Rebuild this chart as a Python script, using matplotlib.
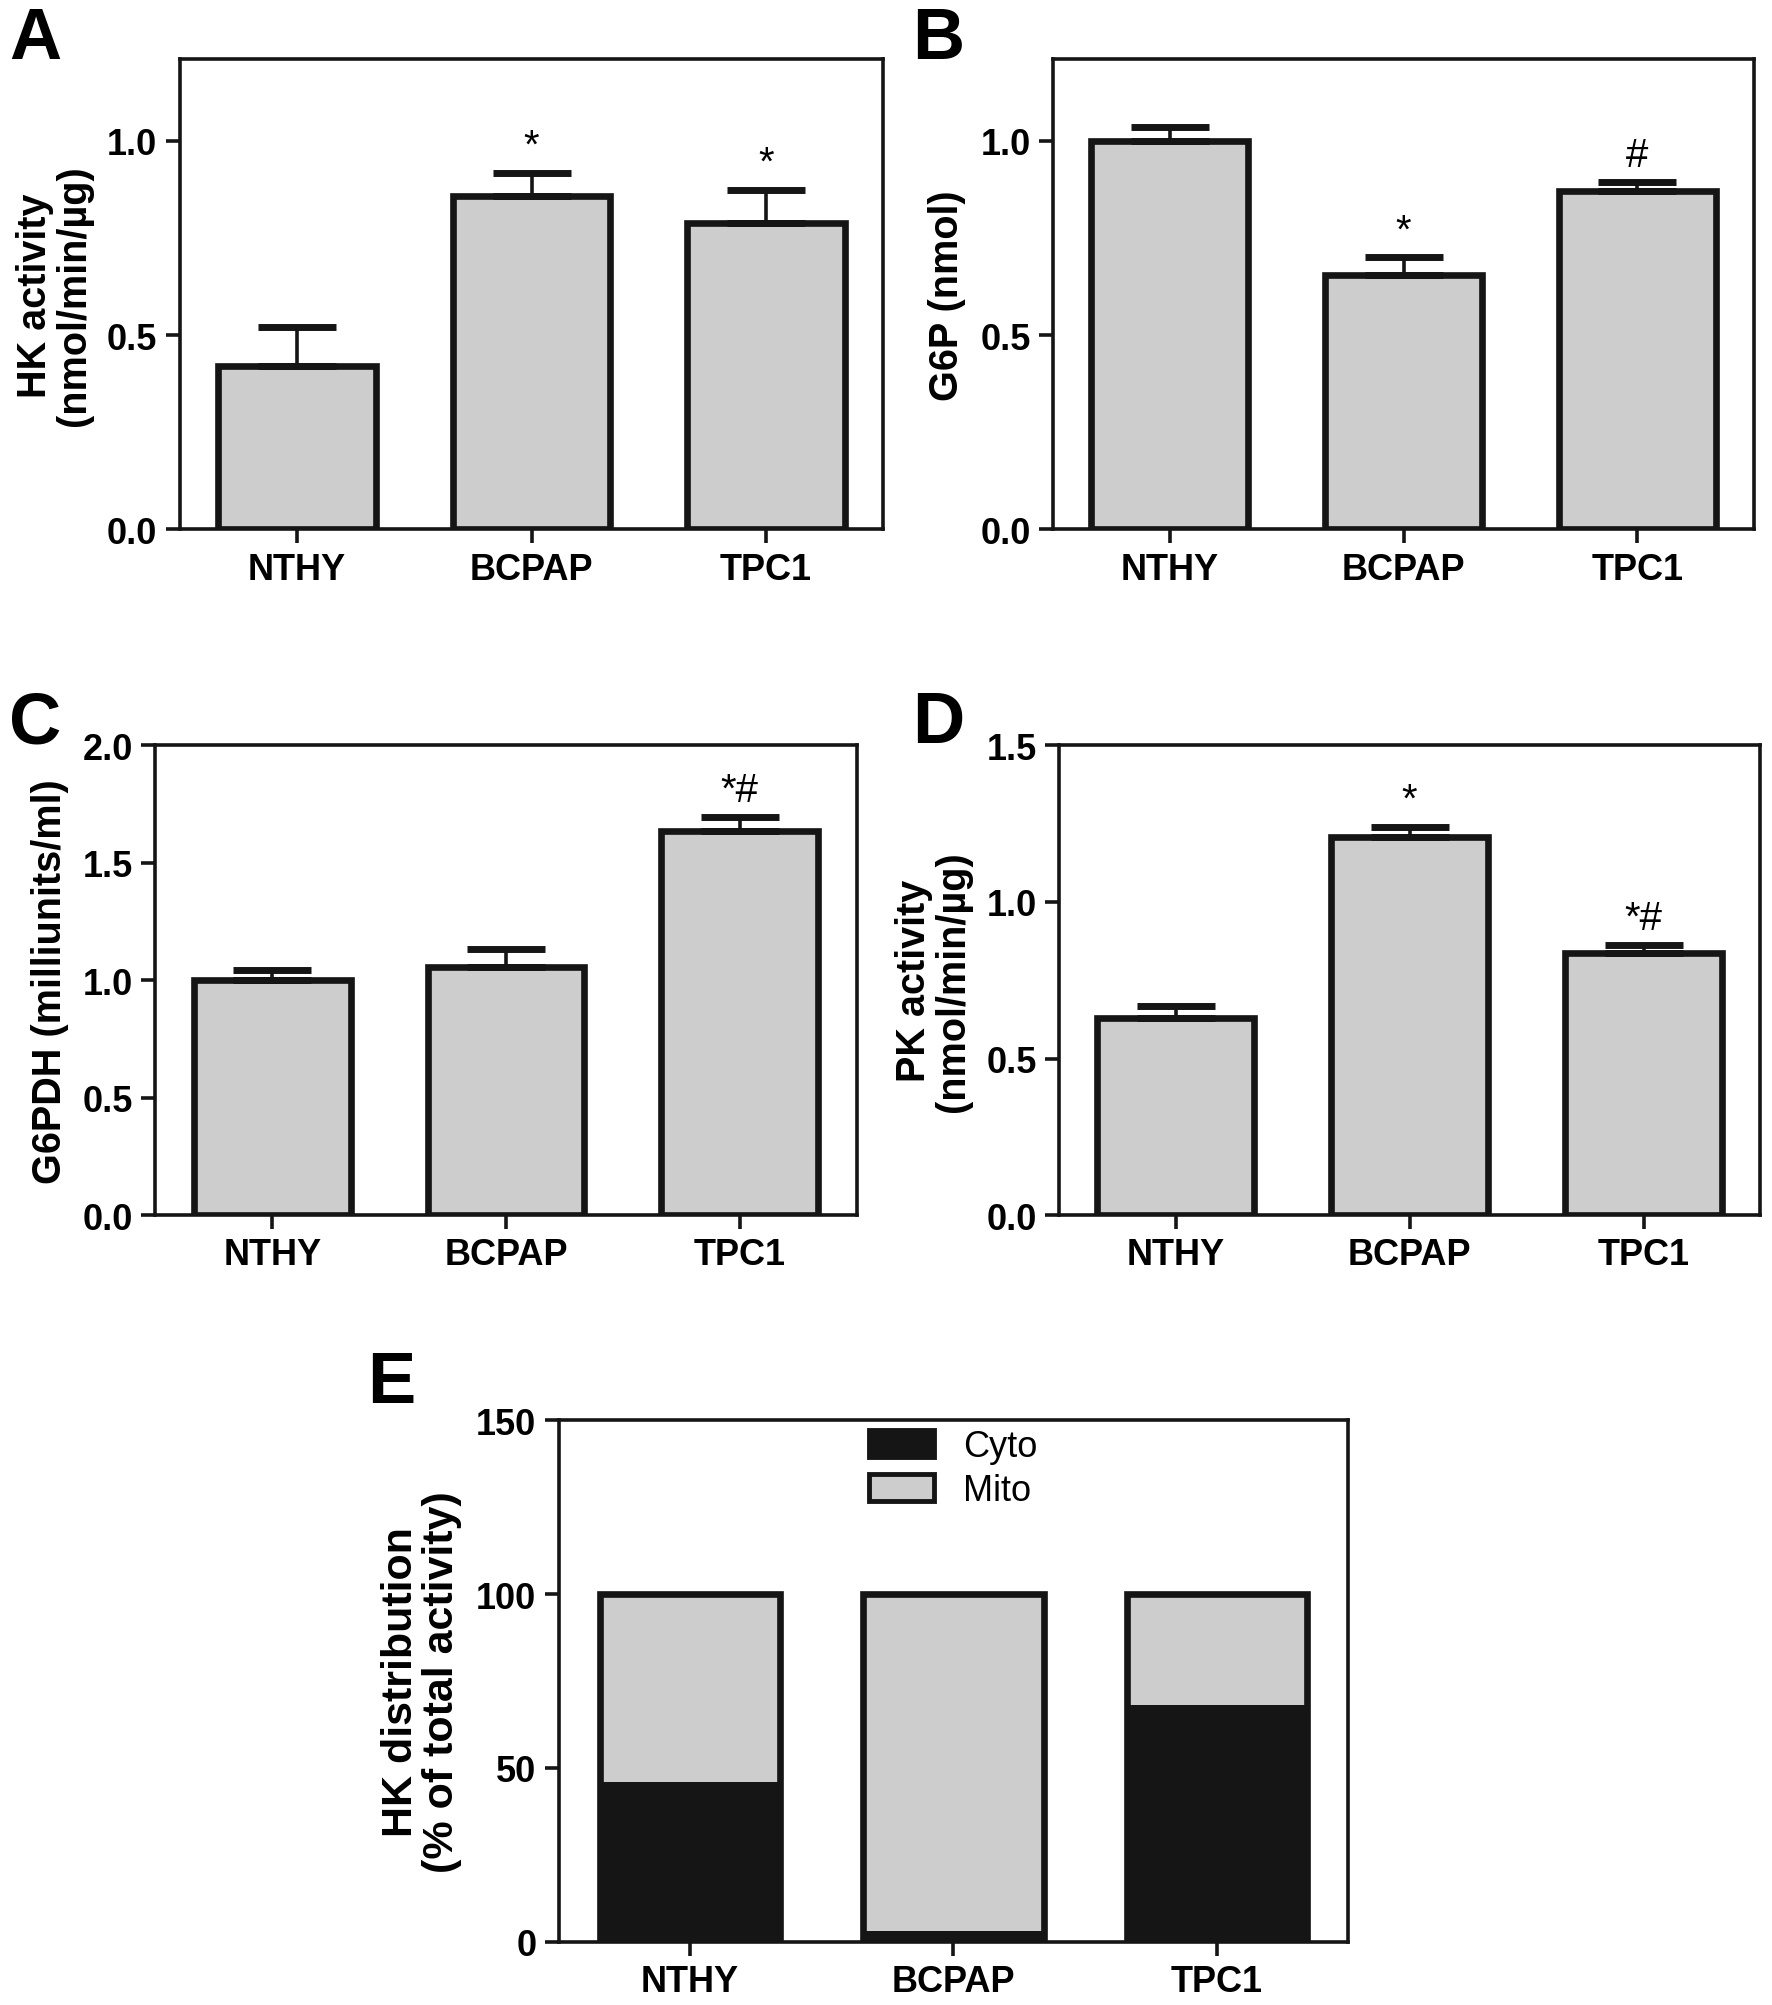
import matplotlib
matplotlib.use("Agg")
import numpy as np
import matplotlib.pyplot as plt
from matplotlib.patches import Patch

plt.rcParams['font.family'] = ['Liberation Sans', 'DejaVu Sans']

# Data
cells = ["NTHY", "BCPAP", "TPC1"]

hk_mean = [0.42, 0.857, 0.79]
hk_err = [0.10, 0.06, 0.085]
hk_marks = ["", "*", "*"]

g6p_mean = [1.0, 0.655, 0.872]
g6p_err = [0.035, 0.045, 0.022]
g6p_marks = ["", "*", "#"]

g6pdh_mean = [1.0, 1.055, 1.635]
g6pdh_err = [0.045, 0.08, 0.06]
g6pdh_marks = ["", "", "*#"]

pk_mean = [0.63, 1.207, 0.836]
pk_err = [0.037, 0.033, 0.025]
pk_marks = ["", "*", "*#"]

cyto = [46, 3, 68]
mito = [54, 97, 32]

GRAY = "#cdcdcd"
BLACK = "#151515"
W = 1772
H = 2006


def style_axes(ax, yticks, fmt):
    for s in ax.spines.values():
        s.set_linewidth(2.6)
        s.set_color(BLACK)
    ax.set_yticks(yticks)
    ax.set_yticklabels([fmt.format(t) for t in yticks])
    ax.set_xticks(range(len(cells)))
    ax.set_xticklabels(cells)
    ax.tick_params(axis="both", direction="out", length=10, width=2.6,
                   labelsize=26, color=BLACK, pad=6)
    for lab in ax.get_xticklabels() + ax.get_yticklabels():
        lab.set_fontweight("bold")


def bar_panel(rect, mean, err, marks, ylim, yticks, ylabel):
    ax = fig.add_axes(rect)
    x = np.arange(len(cells))
    ax.bar(x, mean, width=0.67, color=GRAY, edgecolor=BLACK, linewidth=4.8, zorder=2)
    ax.errorbar(x, mean, yerr=[np.zeros(len(err)), err], fmt="none", ecolor=BLACK,
                elinewidth=2.6, capsize=28, capthick=5, zorder=3)
    for xi, m, e, t in zip(x, mean, err, marks):
        if t:
            ax.annotate(t, (xi, m + e), xytext=(0, 6), textcoords="offset points",
                        ha="center", va="bottom", fontsize=29)
    ax.set_xlim(-0.5, 2.5)
    ax.set_ylim(*ylim)
    style_axes(ax, yticks, "{:.1f}")
    ax.set_ylabel(ylabel, fontsize=28.5, fontweight="bold", linespacing=1.05, labelpad=10)
    return ax


fig = plt.figure(figsize=(W / 100, H / 100), dpi=100)

bar_panel([0.1014, 0.7356, 0.3971, 0.2343], hk_mean, hk_err, hk_marks,
          (0, 1.21), [0.0, 0.5, 1.0], "HK activity\n(nmol/min/µg)")
bar_panel([0.5942, 0.7356, 0.3957, 0.2343], g6p_mean, g6p_err, g6p_marks,
          (0, 1.21), [0.0, 0.5, 1.0], "G6P (nmol)")
bar_panel([0.0877, 0.3937, 0.3957, 0.2343], g6pdh_mean, g6pdh_err, g6pdh_marks,
          (0, 2.0), [0.0, 0.5, 1.0, 1.5, 2.0], "G6PDH (milliunits/ml)")
bar_panel([0.5975, 0.3937, 0.3960, 0.2343], pk_mean, pk_err, pk_marks,
          (0, 1.5), [0.0, 0.5, 1.0, 1.5], "PK activity\n(nmol/min/µg)")

# Panel E: stacked distribution
axE = fig.add_axes([0.3152, 0.0315, 0.4457, 0.2600])
x = np.arange(len(cells))
axE.bar(x, cyto, width=0.685, color=BLACK, linewidth=0, zorder=2)
axE.bar(x, mito, bottom=cyto, width=0.685, color=GRAY, linewidth=0, zorder=2)
total = np.array(cyto) + np.array(mito)
axE.bar(x, total, width=0.685, facecolor="none", edgecolor=BLACK, linewidth=4.8, zorder=3)
axE.set_xlim(-0.5, 2.5)
axE.set_ylim(0, 150)
style_axes(axE, [0, 50, 100, 150], "{:.0f}")
axE.set_ylabel("HK distribution\n(% of total activity)", fontsize=31, fontweight="bold",
               linespacing=1.05, labelpad=10)
handles = [Patch(facecolor=BLACK, edgecolor=BLACK, linewidth=3.5, label="Cyto"),
           Patch(facecolor=GRAY, edgecolor=BLACK, linewidth=3.5, label="Mito")]
axE.legend(handles=handles, loc="upper center", frameon=False, fontsize=26,
           handlelength=1.8, handleheight=0.75, handletextpad=0.8, labelspacing=0.25,
           borderpad=0.25, borderaxespad=0.0, bbox_to_anchor=(0.5, 1.0))

# panel letters
for lab, xf, yf in [("A", 0.005, 0.997), ("B", 0.515, 0.997), ("C", 0.005, 0.656),
                    ("D", 0.515, 0.656), ("E", 0.207, 0.327)]:
    fig.text(xf, yf, lab, fontsize=52, fontweight="bold", ha="left", va="top")

fig.savefig("out.png", dpi=100)
